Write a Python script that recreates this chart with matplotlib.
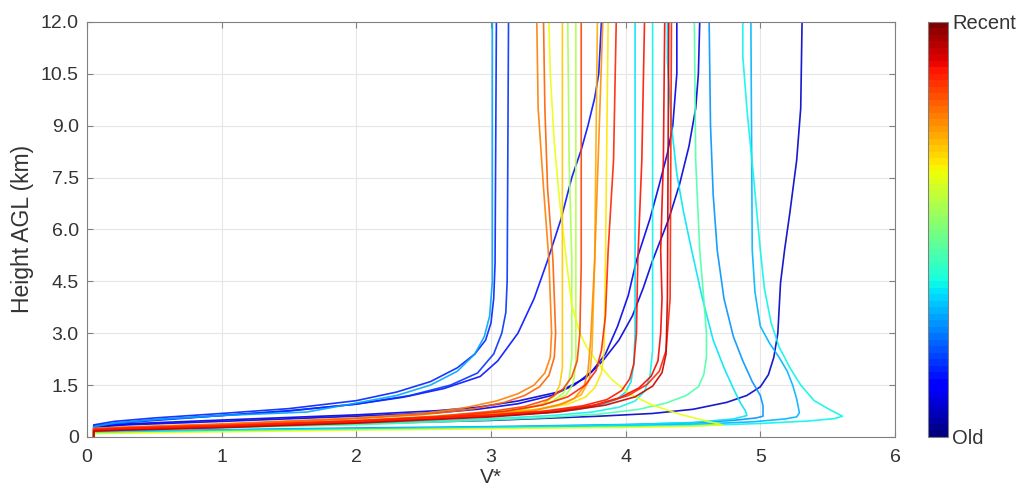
import numpy as np
import matplotlib.pyplot as plt
from matplotlib import cm, colors

plt.rcParams['font.family'] = ['Liberation Sans', 'DejaVu Sans']

# Each profile: (V* values, height AGL in km)
navy_a = ([0.05, 0.05, 0.3, 1.0, 2.0, 3.0, 3.8, 4.2, 4.5, 4.75, 4.9, 5.0, 5.06, 5.1, 5.13, 5.15, 5.18, 5.22, 5.27, 5.3, 5.31],
          [0.0, 0.2, 0.24, 0.3, 0.38, 0.48, 0.6, 0.68, 0.8, 1.0, 1.2, 1.45, 1.8, 2.3, 3.0, 4.45, 5.4, 6.5, 8.0, 9.5, 12.0])
navy_b = ([0.05, 0.05, 0.3, 1.0, 2.0, 2.6, 2.9, 3.2, 3.5, 3.7, 3.83, 3.95, 4.05, 4.13, 4.2, 4.32, 4.4, 4.47, 4.52, 4.54, 4.55],
          [0.0, 0.3, 0.38, 0.49, 0.64, 0.76, 0.86, 1.04, 1.3, 1.7, 2.2, 2.8, 3.5, 4.3, 5.1, 6.3, 7.3, 8.4, 9.5, 10.5, 12.0])
navy_c = ([0.05, 0.05, 0.3, 1.0, 2.0, 2.6, 2.9, 3.2, 3.45, 3.62, 3.75, 3.85, 3.94, 4.02, 4.08, 4.18, 4.25, 4.31, 4.35, 4.38, 4.38],
          [0.0, 0.28, 0.35, 0.45, 0.6, 0.7, 0.8, 0.96, 1.2, 1.5, 1.9, 2.4, 3.2, 4.1, 5.1, 6.3, 7.3, 8.2, 9.0, 10.5, 12.0])
blue_a = ([0.05, 0.05, 0.3, 1.0, 1.5, 2.0, 2.35, 2.65, 2.92, 3.05, 3.2, 3.32, 3.42, 3.52, 3.6, 3.67, 3.72, 3.77, 3.8, 3.82],
          [0.0, 0.33, 0.42, 0.62, 0.76, 0.95, 1.15, 1.4, 1.75, 2.2, 3.0, 4.0, 5.1, 6.3, 7.5, 8.3, 9.0, 9.8, 10.5, 12.0])
blue_b = ([0.05, 0.05, 0.2, 0.5, 1.0, 1.5, 2.0, 2.3, 2.55, 2.75, 2.88, 2.96, 3.0, 3.02, 3.03, 3.04],
          [0.0, 0.35, 0.45, 0.55, 0.68, 0.82, 1.05, 1.3, 1.6, 2.0, 2.4, 2.8, 3.3, 4.0, 5.0, 12.0])
blue_c = ([0.05, 0.05, 0.2, 0.5, 1.0, 1.5, 2.0, 2.4, 2.7, 2.9, 3.02, 3.08, 3.11, 3.12, 3.13],
          [0.0, 0.3, 0.4, 0.5, 0.62, 0.75, 0.95, 1.2, 1.5, 1.85, 2.4, 3.0, 3.6, 4.5, 12.0])
lblue_a = ([0.05, 0.05, 0.2, 0.5, 1.0, 1.63, 2.0, 2.3, 2.55, 2.75, 2.88, 2.95, 2.99, 3.01, 3.01],
           [0.0, 0.3, 0.4, 0.5, 0.62, 0.72, 0.98, 1.2, 1.5, 1.9, 2.4, 2.9, 3.5, 4.5, 12.0])
lblue_b = ([0.05, 0.05, 1.0, 2.0, 3.0, 4.0, 4.5, 4.8, 4.97, 5.02, 5.02, 5.0, 4.94, 4.87, 4.8, 4.73, 4.68, 4.65, 4.63, 4.62],
           [0.0, 0.15, 0.21, 0.26, 0.3, 0.36, 0.41, 0.48, 0.55, 0.6, 0.9, 1.2, 1.6, 2.2, 2.9, 4.0, 5.4, 7.0, 9.0, 12.0])
lblue_c = ([0.05, 0.05, 1.0, 2.0, 3.0, 4.0, 4.6, 4.95, 5.18, 5.27, 5.29, 5.27, 5.24, 5.2, 5.14, 5.07, 5.0, 4.96, 4.94, 4.93],
           [0.0, 0.14, 0.2, 0.24, 0.28, 0.33, 0.38, 0.44, 0.52, 0.58, 0.7, 1.1, 1.5, 1.9, 2.3, 2.7, 3.2, 4.2, 5.4, 12.0])
cyan_a = ([0.05, 0.05, 1.0, 2.0, 3.0, 4.0, 4.6, 5.0, 5.35, 5.55, 5.61, 5.52, 5.4, 5.3, 5.22, 5.14, 5.08, 5.03, 5.0, 4.95, 4.9, 4.87, 4.87],
          [0.0, 0.12, 0.18, 0.22, 0.26, 0.3, 0.34, 0.39, 0.46, 0.53, 0.6, 0.78, 1.05, 1.5, 2.0, 2.6, 3.3, 4.3, 5.4, 7.5, 9.5, 11.0, 12.0])
cyan_b = ([0.05, 0.05, 1.0, 2.0, 3.0, 4.0, 4.5, 4.8, 4.9, 4.89, 4.85, 4.8, 4.73, 4.65, 4.57, 4.49, 4.43, 4.38, 4.34, 4.31, 4.31],
          [0.0, 0.13, 0.19, 0.23, 0.28, 0.35, 0.42, 0.52, 0.62, 0.75, 1.0, 1.4, 2.0, 2.8, 4.0, 5.4, 6.5, 7.6, 9.0, 10.9, 12.0])
cyan_c = ([0.05, 0.05, 0.3, 1.0, 2.0, 3.0, 3.4, 3.65, 3.82, 3.93, 4.0, 4.04, 4.06, 4.07, 4.07],
          [0.0, 0.2, 0.24, 0.3, 0.42, 0.6, 0.7, 0.8, 0.93, 1.08, 1.3, 1.6, 2.1, 3.0, 12.0])
cyan_d = ([0.05, 0.05, 0.3, 1.0, 2.0, 3.0, 3.45, 3.75, 3.95, 4.07, 4.14, 4.18, 4.2, 4.2],
          [0.0, 0.2, 0.23, 0.28, 0.38, 0.53, 0.62, 0.72, 0.86, 1.04, 1.32, 1.75, 2.5, 12.0])
green_a = ([0.05, 0.05, 0.3, 1.0, 2.0, 2.92, 3.4, 3.8, 4.1, 4.3, 4.45, 4.54, 4.58, 4.6, 4.6, 4.58, 4.55, 4.52, 4.51],
           [0.0, 0.18, 0.21, 0.27, 0.35, 0.48, 0.56, 0.66, 0.8, 0.98, 1.2, 1.45, 1.8, 2.3, 3.0, 4.0, 5.4, 8.0, 12.0])
green_b = ([0.05, 0.05, 0.3, 1.0, 2.0, 2.9, 3.25, 3.45, 3.54, 3.58, 3.6, 3.6, 3.58, 3.57],
           [0.0, 0.2, 0.23, 0.3, 0.44, 0.66, 0.82, 1.02, 1.28, 1.65, 2.3, 5.1, 8.0, 12.0])
green_c = ([0.05, 0.05, 0.3, 1.0, 2.0, 2.9, 3.25, 3.45, 3.56, 3.61, 3.63, 3.63],
           [0.0, 0.22, 0.25, 0.32, 0.47, 0.68, 0.82, 1.0, 1.22, 1.55, 2.1, 12.0])
yellow_a = ([0.05, 0.05, 1.0, 2.0, 3.0, 4.0, 4.5, 4.72, 4.6, 4.4, 4.2, 4.03, 3.9, 3.79, 3.71, 3.66, 3.6, 3.56, 3.51, 3.47, 3.44, 3.43],
            [0.0, 0.1, 0.15, 0.2, 0.24, 0.28, 0.31, 0.35, 0.46, 0.66, 0.92, 1.24, 1.65, 2.15, 2.6, 3.0, 3.8, 5.1, 6.8, 8.5, 10.5, 12.0])
yellow_b = ([0.05, 0.05, 0.3, 1.0, 2.0, 3.0, 3.35, 3.57, 3.7, 3.77, 3.82, 3.84, 3.85, 3.87],
            [0.0, 0.22, 0.25, 0.32, 0.45, 0.66, 0.8, 0.95, 1.15, 1.42, 1.85, 2.5, 5.1, 12.0])
amber_a = ([0.05, 0.05, 0.3, 1.0, 2.0, 2.9, 3.2, 3.38, 3.47, 3.51, 3.53, 3.53],
           [0.0, 0.2, 0.23, 0.3, 0.42, 0.64, 0.77, 0.95, 1.18, 1.5, 2.0, 12.0])
amber_b = ([0.05, 0.05, 0.3, 1.0, 2.0, 3.0, 3.35, 3.55, 3.67, 3.73, 3.75, 3.77, 3.79],
           [0.0, 0.2, 0.23, 0.3, 0.44, 0.66, 0.8, 0.98, 1.22, 1.65, 2.5, 5.1, 12.0])
orange_a = ([0.05, 0.05, 0.3, 1.0, 2.0, 3.0, 3.3, 3.5, 3.62, 3.69, 3.72, 3.74, 3.77, 3.8, 3.83],
            [0.0, 0.2, 0.23, 0.3, 0.42, 0.64, 0.75, 0.92, 1.12, 1.45, 1.9, 2.8, 5.1, 8.5, 12.0])
orange_b = ([0.05, 0.05, 0.3, 1.0, 2.0, 2.5, 2.8, 3.04, 3.2, 3.32, 3.4, 3.44, 3.45, 3.43, 3.39, 3.35, 3.34],
            [0.0, 0.25, 0.29, 0.38, 0.55, 0.68, 0.84, 1.04, 1.25, 1.5, 1.85, 2.3, 3.0, 5.1, 7.2, 9.5, 12.0])
orange_c = ([0.05, 0.05, 0.3, 1.0, 2.0, 2.5, 2.85, 3.1, 3.25, 3.36, 3.43, 3.47, 3.48, 3.46, 3.42, 3.4, 3.39],
            [0.0, 0.24, 0.28, 0.36, 0.53, 0.65, 0.8, 1.0, 1.2, 1.45, 1.78, 2.3, 3.0, 5.1, 7.2, 9.5, 12.0])
red_a = ([0.05, 0.05, 0.3, 1.0, 2.0, 2.6, 3.0, 3.25, 3.42, 3.53, 3.6, 3.64, 3.66, 3.67, 3.67],
         [0.0, 0.22, 0.26, 0.33, 0.47, 0.6, 0.74, 0.88, 1.08, 1.36, 1.74, 2.2, 3.0, 5.0, 12.0])
red_b = ([0.05, 0.05, 0.3, 1.0, 2.0, 2.7, 3.1, 3.38, 3.57, 3.7, 3.78, 3.82, 3.85, 3.87, 3.91, 3.93],
         [0.0, 0.22, 0.26, 0.33, 0.47, 0.6, 0.74, 0.92, 1.16, 1.5, 1.92, 2.5, 3.5, 5.4, 8.0, 12.0])
red_c = ([0.05, 0.05, 0.3, 1.0, 2.0, 3.0, 3.4, 3.68, 3.86, 3.97, 4.03, 4.06, 4.08, 4.09, 4.12, 4.14],
         [0.0, 0.2, 0.24, 0.3, 0.44, 0.64, 0.75, 0.9, 1.08, 1.34, 1.68, 2.1, 3.0, 5.1, 8.0, 12.0])
red_d = ([0.05, 0.05, 0.3, 1.0, 2.0, 3.0, 3.45, 3.75, 3.96, 4.1, 4.19, 4.24, 4.26, 4.27, 4.26, 4.28, 4.29],
         [0.0, 0.18, 0.21, 0.28, 0.42, 0.6, 0.72, 0.9, 1.14, 1.42, 1.76, 2.2, 3.0, 4.0, 5.4, 8.0, 12.0])
red_e = ([0.05, 0.05, 0.3, 1.0, 2.0, 3.0, 3.45, 3.8, 4.02, 4.16, 4.25, 4.3, 4.33, 4.34],
         [0.0, 0.19, 0.22, 0.29, 0.43, 0.62, 0.75, 0.94, 1.2, 1.52, 1.9, 2.5, 4.0, 12.0])
red_f = ([0.05, 0.05, 0.3, 1.0, 2.0, 3.0, 3.5, 3.85, 4.07, 4.2, 4.27, 4.3, 4.31, 4.32],
         [0.0, 0.17, 0.2, 0.27, 0.4, 0.58, 0.72, 0.92, 1.16, 1.47, 1.86, 2.4, 4.0, 12.0])

profiles = [navy_a, navy_b, navy_c, blue_a, blue_b, blue_c, lblue_a, lblue_b,
            lblue_c, cyan_a, cyan_b, cyan_c, cyan_d, green_a, green_b, green_c,
            yellow_a, yellow_b, amber_a, amber_b, orange_a, orange_b, orange_c,
            red_a, red_b, red_c, red_d, red_e, red_f]
# relative age of each profile: 0 = old, 1 = recent
ages = [0.07, 0.08, 0.1, 0.15, 0.16, 0.18, 0.29, 0.27, 0.3, 0.36, 0.35, 0.35,
        0.37, 0.45, 0.55, 0.57, 0.64, 0.66, 0.7, 0.72, 0.76, 0.78, 0.8,
        0.84, 0.86, 0.88, 0.9, 0.87, 0.93]

y_ticks = [0, 1.5, 3.0, 4.5, 6.0, 7.5, 9.0, 10.5, 12.0]
y_labels = ['0', '1.5', '3.0', '4.5', '6.0', '7.5', '9.0', '10.5', '12.0']

cmap = plt.get_cmap('jet', 64)
edge = '#808080'
txt = '#333333'

fig = plt.figure(figsize=(10.24, 4.96), dpi=100)
ax = fig.add_axes([0.085, 0.119, 0.789, 0.837])
for (v, h), a in zip(profiles, ages):
    ax.plot(v, h, color=cmap(a), linewidth=1.2, alpha=0.9,
            solid_joinstyle='round')

ax.set_xlim(0, 6)
ax.set_ylim(0, 12)
ax.set_xticks(range(7))
ax.set_yticks(y_ticks)
ax.set_yticklabels(y_labels)
ax.grid(True, color='#e6e6e6', linewidth=0.8)
ax.set_axisbelow(True)
ax.tick_params(direction='in', length=4, colors=edge, labelcolor=txt,
               labelsize=14, top=True, right=True, pad=6)
ax.tick_params(axis='x', pad=9)
for s in ax.spines.values():
    s.set_color(edge)
ax.set_xlabel('V*', fontsize=15, color=txt, labelpad=1)
ax.set_ylabel('Height AGL (km)', fontsize=16.5, color=txt, labelpad=5)

cax = fig.add_axes([0.906, 0.119, 0.02, 0.837])
sm = cm.ScalarMappable(norm=colors.Normalize(0, 1), cmap=cmap)
cb = fig.colorbar(sm, cax=cax)
cb.set_ticks([0, 1])
cb.set_ticklabels(['Old', 'Recent'])
cb.ax.tick_params(length=0, labelsize=14.5, labelcolor=txt, pad=3)
cb.outline.set_edgecolor(edge)

fig.savefig('out.png', dpi=100)
